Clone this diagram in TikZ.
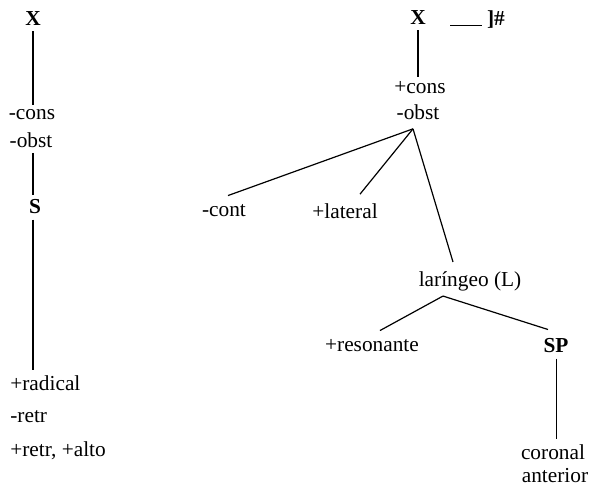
\documentclass[tikz,border=0pt]{standalone}
\usepackage{fontspec}
\setmainfont{Liberation Serif}
\usepackage{tikz}
\usetikzlibrary{calc}

\tikzset{
  feat/.style={inner sep=2pt, outer sep=2pt, font=\fontsize{16}{18}\selectfont},
  tier/.style={feat, font=\fontsize{16}{18}\selectfont\bfseries},
  stem/.style={line width=1.5pt},
  branch/.style={line width=0.9pt},
  thinbranch/.style={line width=0.6pt}
}

\begin{document}
\begin{tikzpicture}[x=0.75pt,y=-0.75pt]
    \useasboundingbox (0,0) rectangle (593,489);
    % left tree
    \node[tier] (xl) at (33,19) {X};
    \node[feat] (consl) at (32,115) {-cons};
    \node[feat] (obstl) at (31,140) {-obst};
    \node[tier] (sl) at (35,207) {S};
    \node[feat,anchor=west] (radical) at (5,383) {+radical};
    \node[feat,anchor=west] (retr) at (5,417) {-retr};
    \node[feat,anchor=west] (retralto) at (5,451) {+retr, +alto};
    \draw [stem] (xl.south) -- (xl.south |- consl.north);
    \draw [stem] (obstl.south -| xl.south) -- (xl.south |- sl.north);
    \draw [stem] (xl.south |- sl.south) -- (xl.south |- radical.north);
    % right tree
    \node[tier] (xr) at (418,18) {X};
    \node[feat,anchor=base west] (edge) at (445,26) {\rule{24pt}{1pt}\hspace{3.5pt}\textbf{]\#}};
    \node[feat] (consr) at (420,88) {+cons};
    \node[feat] (obstr) at (418,112) {-obst};
    \node[feat] (cont) at (224,211) {-cont};
    \node[feat] (lateral) at (345,211) {+lateral};
    \node[feat] (laringeo) at (470,281) {laríngeo (L)};
    \node[feat] (resonante) at (372,346) {+resonante};
    \node[tier] (sp) at (556,346) {SP};
    \node[feat] (coronal) at (553,452) {coronal};
    \node[feat] (anterior) at (555,476) {anterior};
    \coordinate (obstfoot) at ($(obstr.south)+(-5,4)$);
    \coordinate (lfoot) at ($(laringeo.south)+(-27,0)$);
    \draw [branch] (xr.south) -- (xr.south |- consr.north);
    \draw [branch] (obstfoot) -- ($(cont.north)+(4,-4)$);
    \draw [branch] (obstfoot) -- ($(lateral.north)+(15,-4)$);
    \draw [branch] (obstfoot) -- ($(laringeo.north)+(-17,-4)$);
    \draw [branch] (lfoot) -- ($(resonante.north)+(8,-4)$);
    \draw [branch] (lfoot) -- ($(sp.north)+(-8,-4)$);
    \draw [thinbranch] (sp.south) -- (sp.south |- coronal.north);
\end{tikzpicture}
\end{document}
